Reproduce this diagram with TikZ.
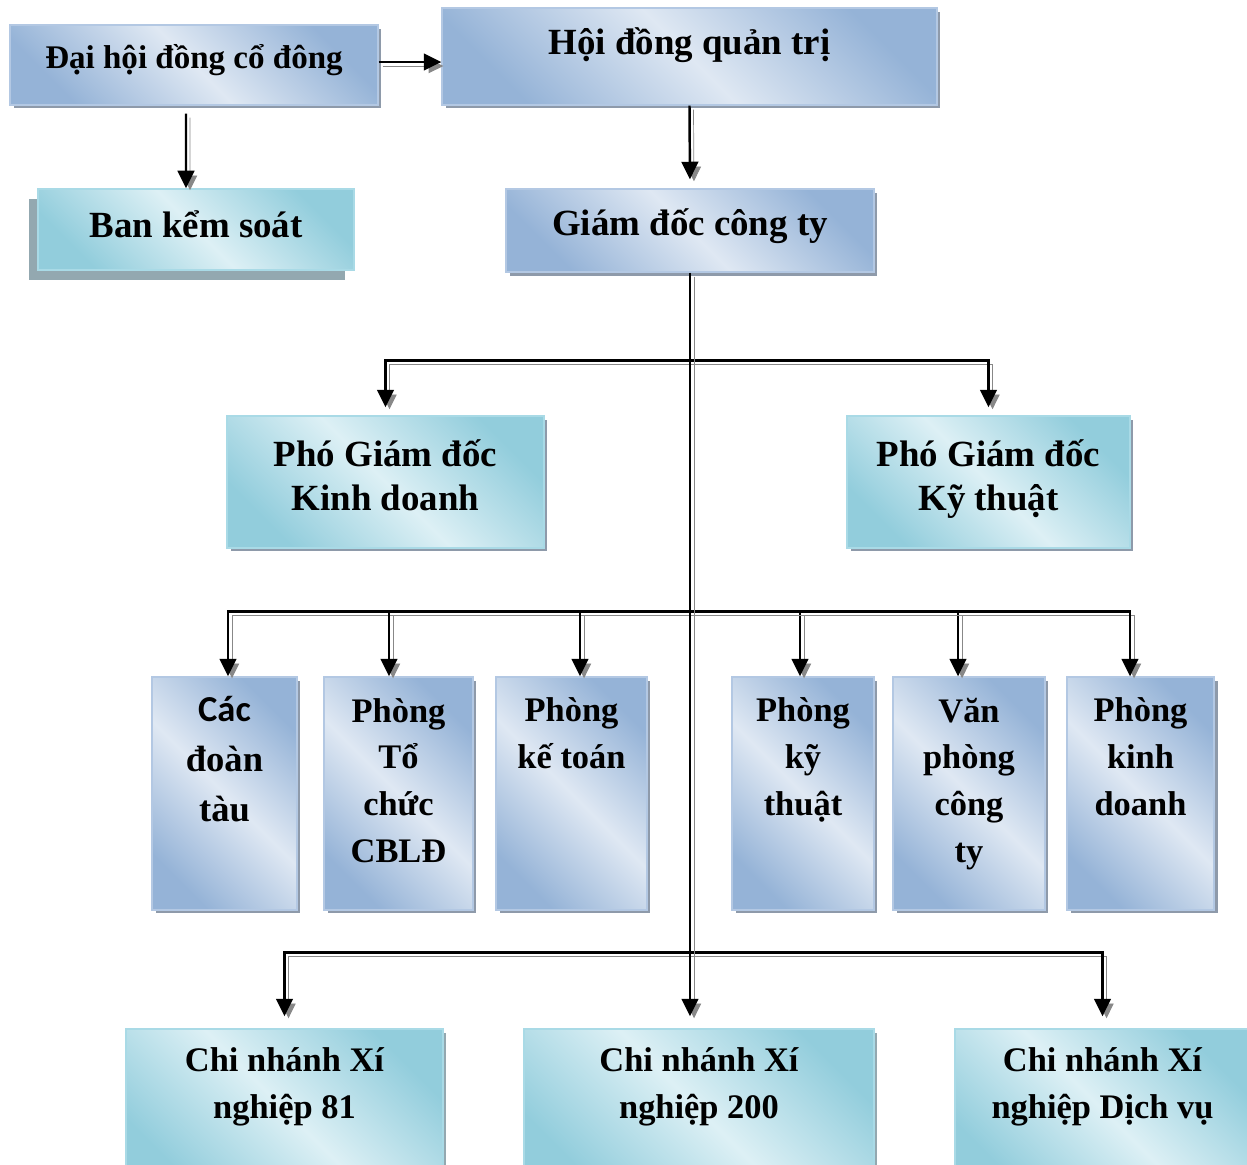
\documentclass[tikz,border=0pt]{standalone}
\usepackage{fontspec}
\setmainfont{Liberation Serif}
\newfontfamily\calfont{Carlito}
\usepackage{tikz}
\usetikzlibrary{positioning,calc,shadows,arrows.meta}

\definecolor{bluelight}{HTML}{DFE8F3}
\definecolor{bluedark}{HTML}{95B3D7}
\definecolor{blueedge}{HTML}{B3C8E3}
\definecolor{blueshadow}{HTML}{8E9AAA}
\definecolor{cyanlight}{HTML}{DDF0F5}
\definecolor{cyandark}{HTML}{92CDDC}
\definecolor{cyanedge}{HTML}{A9DAE6}
\definecolor{cyanshadow}{HTML}{93A8B0}
\definecolor{linegray}{HTML}{888888}

\tikzset{
  boxshadow/.style={general shadow={fill=#1, shadow xshift=0.07cm, shadow yshift=-0.07cm}},
  bluebox/.style={draw=blueedge, line width=0.8pt, top color=bluedark, bottom color=bluedark,
    middle color=bluelight, shading angle=-45, boxshadow=blueshadow},
  cyanbox/.style={draw=cyanedge, line width=0.8pt, top color=cyandark, bottom color=cyandark,
    middle color=cyanlight, shading angle=-45},
  % anchor=base sits on the last line
  bigtext/.style={anchor=base, align=center, inner sep=0pt, font=\bfseries\fontsize{21}{25}\selectfont},
  smalltext/.style={anchor=base, align=center, inner sep=0pt, font=\bfseries\fontsize{19.6}{26.7}\selectfont},
  conn/.style={line width=1.4pt, -{Triangle[width=9.5pt,length=10pt]},
    preaction={draw=linegray, transform canvas={xshift=0.08cm, yshift=-0.08cm}}},
}

\begin{document}
\begin{tikzpicture}[x=0.02cm, y=-0.02cm]
\useasboundingbox (0,0) rectangle (1247,1164);

% top level
\node[bluebox, minimum width=7.36cm, minimum height=1.6cm,
  label={[bigtext, font=\bfseries\fontsize{18.8}{22}\selectfont, yshift=-0.88cm]north:Đại hội đồng cổ đông}] (dhcd) at (194,65) {};
\node[bluebox, minimum width=9.9cm, minimum height=1.94cm,
  label={[bigtext, yshift=-0.94cm]north:Hội đồng quản trị}] (hdqt) at (689.5,56.5) {};
\node[cyanbox, minimum width=6.32cm, minimum height=1.62cm,
  general shadow={fill=cyanshadow, shadow xshift=-0.18cm, shadow yshift=-0.2cm},
  label={[bigtext, yshift=-0.98cm]north:Ban kểm soát}] (bks) at (196,229.5) {};
\node[bluebox, minimum width=7.36cm, minimum height=1.66cm,
  label={[bigtext, yshift=-0.94cm]north:Giám đốc công ty}] (gd) at (690,230.5) {};

% deputies
\node[cyanbox, boxshadow=blueshadow, minimum width=6.34cm, minimum height=2.64cm,
  label={[bigtext, yshift=-1.9cm]north:Phó Giám đốc\\Kinh doanh}] (pgdkd) at (385.5,482) {};
\node[cyanbox, boxshadow=blueshadow, minimum width=5.66cm, minimum height=2.64cm,
  label={[bigtext, yshift=-1.9cm]north:Phó Giám đốc\\Kỹ thuật}] (pgdkt) at (988.5,482) {};

% departments
\node[bluebox, minimum width=2.9cm, minimum height=4.66cm,
  label={[smalltext, font=\bfseries\fontsize{20.8}{28.4}\selectfont, yshift=-2.9cm]north:{\calfont Các}\\đoàn\\tàu}] (cdt) at (224.5,793.5) {};
\node[bluebox, minimum width=2.98cm, minimum height=4.66cm,
  label={[smalltext, yshift=-3.73cm]north:Phòng\\Tổ\\chức\\CBLĐ}] (ptc) at (398.5,793.5) {};
\node[bluebox, minimum width=3.02cm, minimum height=4.66cm,
  label={[smalltext, yshift=-1.84cm]north:Phòng\\kế toán}] (pkt) at (571.5,793.5) {};
\node[bluebox, minimum width=2.84cm, minimum height=4.66cm,
  label={[smalltext, yshift=-2.78cm]north:Phòng\\kỹ\\thuật}] (pkyt) at (803,793.5) {};
\node[bluebox, minimum width=3.04cm, minimum height=4.66cm,
  label={[smalltext, yshift=-3.73cm]north:Văn\\phòng\\công\\ty}] (vpct) at (969,793.5) {};
\node[bluebox, minimum width=2.94cm, minimum height=4.66cm,
  label={[smalltext, yshift=-2.78cm]north:Phòng\\kinh\\doanh}] (pkd) at (1140.5,793.5) {};

% branches
\node[cyanbox, boxshadow=cyanshadow, minimum width=6.34cm, minimum height=3.22cm,
  label={[smalltext, yshift=-1.8cm]north:Chi nhánh Xí\\nghiệp 81}] (cn81) at (284.5,1109.5) {};
\node[cyanbox, boxshadow=cyanshadow, minimum width=7cm, minimum height=3.22cm,
  label={[smalltext, yshift=-1.8cm]north:Chi nhánh Xí\\nghiệp 200}] (cn200) at (699,1109.5) {};
\node[cyanbox, boxshadow=cyanshadow, minimum width=5.9cm, minimum height=3.22cm,
  label={[smalltext, yshift=-1.8cm]north:Chi nhánh Xí\\nghiệp Dịch vụ}] (cndv) at (1102.5,1109.5) {};

% connectors
\coordinate (br1) at ($(gd.south)+(0,88)$);
\coordinate (br2) at ($(gd.south)+(0,339)$);
\coordinate (br3) at ($(gd.south)+(0,680)$);

\draw[conn] ([yshift=0.06cm]dhcd.east) -- ([yshift=0.06cm]dhcd.east -| hdqt.west);
\draw[conn] ([xshift=-0.16cm,yshift=-0.16cm]dhcd.south) -- ([xshift=-0.2cm]bks.north);
\draw[conn, shorten >=0.18cm] (hdqt.south) -- (gd.north);
\draw[conn, shorten >=0.16cm] (br1) -| (pgdkd.north);
\draw[conn, shorten >=0.16cm] (br1) -| (pgdkt.north);
\foreach \b/\dx in {cdt/0.07, ptc/-0.19, pkt/0.17, pkyt/-0.06, vpct/-0.22, pkd/-0.21}
  \draw[conn] (br2) -| ([xshift=\dx cm]\b.north);
\draw[conn, shorten >=0.24cm] (br3) -| (cn81.north);
\draw[conn, shorten >=0.24cm] (br3) -| (cndv.north);
\draw[conn, shorten >=0.24cm] (gd.south) -- (gd.south |- cn200.north);
\end{tikzpicture}
\end{document}
